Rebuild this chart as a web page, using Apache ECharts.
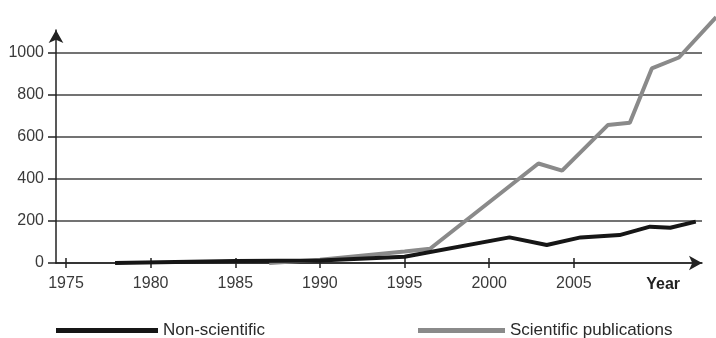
<!DOCTYPE html>
<html>
<head>
<meta charset="utf-8">
<script src="https://cdn.jsdelivr.net/npm/echarts@6/dist/echarts.min.js"></script>
<style>
	html, body { margin: 0; padding: 0; background: #fff; }
	#chart { width: 716px; height: 338px; }
</style>
</head>
<body>
<div id="chart"></div>
<script>
	// values
	const xTicks = [1975, 1980, 1985, 1990, 1995, 2000, 2005]
	const yTicks = [0, 200, 400, 600, 800, 1000]

	const nonSciYears = [1977.9, 1985, 1990, 1995, 2001.2, 2003.4, 2005.4, 2007.7, 2009.5, 2010.7, 2012.2]
	const nonSciValues = [0, 10, 12, 30, 122, 86, 122, 133, 173, 168, 197]

	const sciYears = [1987, 1990, 1995, 1996.5, 2002.9, 2004.3, 2007.0, 2008.3, 2009.6, 2011.2, 2013.4]
	const sciValues = [0, 15, 55, 68, 474, 440, 657, 668, 927, 979, 1171]

	const font = 'Liberation Sans, Arial, sans-serif'
	const pairs = (xs, ys) => xs.map((x, i) => [x, ys[i]])
	const plain = v => String(v)

	// both grids share one scale (16.93 px per year, 0.2099 px per unit);
	// the second one is bigger so the grey line can run off the top right corner
	const xMin = 1974.41
	const xMax = 2012.57
	const xMaxWide = 2013.39
	const yMax = 1110
	const yMaxWide = 1253

	const chart = echarts.init(document.getElementById('chart'))
	chart.setOption({
		animation: false,
		textStyle: { fontFamily: font },
		grid: [
			{ left: 56, right: 14, top: 30, bottom: 75 },
			{ left: 56, right: 0, top: 0, bottom: 75 }
		],
		legend: [{
			data: ['Non-scientific'],
			left: 56, top: 322, padding: 0,
			icon: 'rect', itemWidth: 102, itemHeight: 5,
			textStyle: { fontSize: 17, color: '#2a2a2a', fontFamily: font }
		}, {
			data: ['Scientific publications'],
			left: 418, top: 322, padding: 0,
			icon: 'rect', itemWidth: 87, itemHeight: 5,
			textStyle: { fontSize: 17, color: '#2a2a2a', fontFamily: font }
		}],
		xAxis: [{
			type: 'value',
			gridIndex: 0,
			min: xMin,
			max: xMax,
			name: 'Year',
			nameLocation: 'end',
			nameGap: -22,
			nameTextStyle: {
				fontSize: 16, fontWeight: 'bold', color: '#222',
				align: 'right', verticalAlign: 'top', padding: [14, 0, 0, 0]
			},
			axisLine: {
				show: true, symbol: ['none', 'arrow'], symbolSize: [11, 13],
				lineStyle: { color: '#222', width: 1.5 }
			},
			axisTick: { show: true, length: 5, customValues: xTicks, lineStyle: { color: '#222', width: 1.5 } },
			axisLabel: { customValues: xTicks, formatter: plain, margin: 13, fontSize: 16, color: '#3a3a3a' },
			splitLine: { show: false }
		}, {
			// upper half of the x ticks
			type: 'value',
			gridIndex: 0,
			min: xMin,
			max: xMax,
			position: 'bottom',
			axisLine: { show: false },
			axisTick: { show: true, inside: true, length: 5, customValues: xTicks, lineStyle: { color: '#222', width: 1.5 } },
			axisLabel: { show: false },
			splitLine: { show: false }
		}, {
			type: 'value',
			gridIndex: 1,
			min: xMin,
			max: xMaxWide,
			show: false
		}],
		yAxis: [{
			type: 'value',
			gridIndex: 0,
			min: 0,
			max: yMax,
			axisLine: {
				show: true, symbol: ['none', 'arrow'], symbolSize: [11, 13],
				lineStyle: { color: '#222', width: 1.5 }
			},
			axisTick: { show: true, length: 8, customValues: yTicks, lineStyle: { color: '#222', width: 1.5 } },
			axisLabel: { customValues: yTicks, formatter: plain, margin: 12, fontSize: 16, color: '#3a3a3a' },
			splitLine: { show: true, lineStyle: { color: '#444', width: 1.5 } }
		}, {
			type: 'value',
			gridIndex: 1,
			min: 0,
			max: yMaxWide,
			show: false
		}],
		series: [{
			name: 'Non-scientific',
			type: 'line',
			xAxisIndex: 0,
			yAxisIndex: 0,
			data: pairs(nonSciYears, nonSciValues),
			symbol: 'none',
			z: 4,
			color: '#161616',
			lineStyle: { color: '#161616', width: 4 }
		}, {
			name: 'Scientific publications',
			type: 'line',
			xAxisIndex: 2,
			yAxisIndex: 1,
			data: pairs(sciYears, sciValues),
			symbol: 'none',
			z: 3,
			color: '#8a8a8a',
			lineStyle: { color: '#8a8a8a', width: 4 }
		}]
	})
</script>
</body>
</html>
